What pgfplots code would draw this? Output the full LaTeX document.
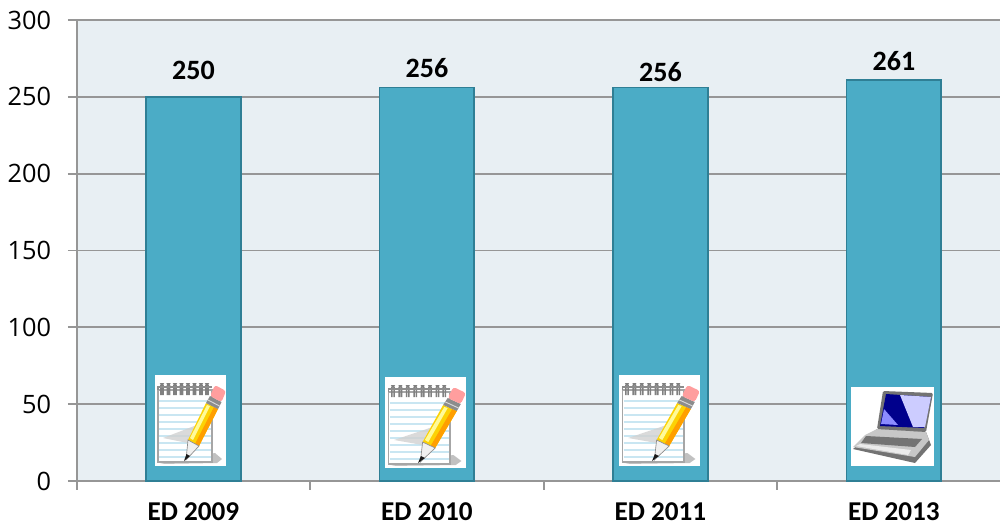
\documentclass[border=0pt]{standalone}
\usepackage{pgfplots}
\usepackage{fontspec}
\pgfplotsset{compat=1.18}
\setmainfont{Carlito}
\newfontfamily\tickfont{Open Sans}
\definecolor{bgc}{HTML}{E8EFF3}
\definecolor{barc}{HTML}{4BACC6}
\definecolor{barl}{HTML}{2F7F95}
\definecolor{gridc}{HTML}{969696}
\definecolor{linec}{HTML}{C9E6F2}
\newcommand{\notepad}[3]{%
\begin{scope}[shift={(#1,#2)},xscale=#3]
\fill[white] (0,0) rectangle (71,91);
\fill[black!30,opacity=.8] (48,80) -- (60,78) -- (67,84) -- (62,88) -- (5,89) -- cycle;
\fill[white,draw=black!35,line width=.9pt] (3,15) rectangle (57,87);
\foreach \y in {26,33,40,47,54,61,68,75,82}{\draw[linec,line width=.8pt] (4,\y) -- (56,\y);}
\fill[black!18,opacity=.8] (8,63) -- (47,48) -- (47,66) -- (33,68) -- cycle;
\foreach \x in {6,12.5,19,25.5,32,38.5,45,51}{\draw[black!50,line width=1.2pt,rounded corners=1pt] (\x,20) -- (\x,9) -- (\x+2,9) -- (\x+2,20);}
\draw[black!45,line width=.9pt] (3,15) -- (3,12) -- (57,12);
\fill[yellow!70!orange] (33,65) -- (51,28) -- (63,34) -- (44,71) -- cycle;
\fill[yellow!40!white] (35,63) -- (52,30) -- (55,31) -- (38,65) -- cycle;
\fill[orange!75!yellow] (40,69) -- (59,32) -- (63,34) -- (44,71) -- cycle;
\fill[black!6,draw=black!45,line width=.5pt] (33,65) -- (44,71) -- (31,85) -- cycle;
\fill[black!90] (31.5,79) -- (35,81) -- (29,86) -- cycle;
\fill[black!45] (51,28) -- (55,21) -- (66.5,27) -- (63,34) -- cycle;
\draw[black!15,line width=.7pt] (53,25) -- (64.5,31);
\fill[red!38!white,rounded corners=2pt] (55,21) -- (60,10) -- (71,16) -- (66.5,27) -- cycle;
\end{scope}}
\newcommand{\laptop}[2]{%
\begin{scope}[shift={(#1,#2)}]
\fill[white] (0,0) rectangle (83,79);
\fill[black!55] (2,62) -- (64,76) -- (80,58) -- (75,45) -- (26,42) -- cycle;
\fill[black!22] (2,60) -- (14,48) -- (26,42) -- (75,45) -- (78,53) -- (64,70) -- cycle;
\fill[black!55] (15,49) -- (71,52) -- (64,60) -- (10,56) -- cycle;
\fill[black!8] (5,59) -- (9,57) -- (60,63) -- (57,68) -- cycle;
\fill[black!55,rounded corners=1pt] (32,4) -- (82,6) -- (75,45) -- (26,42) -- cycle;
\fill[blue!55!black] (35,7) -- (80,10) -- (73,41) -- (29,39) -- cycle;
\fill[blue!20!white] (49,8) -- (80,10) -- (74,40) -- (62,40) -- cycle;
\fill[blue!45!white] (30,37) -- (33,22) -- (47,38) -- cycle;
\end{scope}}
\begin{document}
\begin{tikzpicture}
\useasboundingbox (0,0) rectangle (750pt,394.5pt);
\clip (0,0) rectangle (750pt,394.5pt);
\begin{axis}[
  at={(57.5pt,33.75pt)}, anchor=south west,
  scale only axis, width=700.5pt, height=345.75pt,
  xmin=-0.5, xmax=3.5, ymin=0, ymax=300,
  axis background/.style={fill=bgc},
  axis line style={gridc,line width=1.4pt},
  axis x line*=bottom, axis y line*=left,
  ymajorgrids, grid style={gridc,line width=1.3pt},
  ytick={0,50,100,150,200,250,300},
  xtick={0,1,2,3}, xticklabels={ED 2009,ED 2010,ED 2011,ED 2013},
  minor xtick={-0.5,0.5,1.5,2.5,3.5},
  major tick length=6.5pt,
  tick style={gridc,line width=1.3pt},
  x tick style={draw=none},
  minor tick length=6.5pt,
  minor x tick style={draw=gridc,line width=1.3pt},
  tick align=outside,
  /pgf/number format/assume math mode=true,
  yticklabel style={font=\tickfont\fontsize{19}{19}\selectfont,black,xshift=-10.5pt,inner sep=2pt},
  xticklabel style={font=\bfseries\fontsize{20.4}{20}\selectfont,black,yshift=-8.5pt,inner sep=1pt},
  ybar, bar width=71pt,
  nodes near coords,
  visualization depends on={\thisrow{off} \as \off},
  every node near coord/.append style={font=\bfseries\fontsize{21}{21}\selectfont,black,anchor=center,yshift=\off pt},
  axis on top=false,
]
\addplot[fill=barc,draw=barl,line width=1.2pt] table[x=x,y=y] {
x y off
0 250 20
1 256 14.6
2 256 11.6
3 261 14.1
};
\end{axis}
\begin{scope}[x=.75pt,y=-.75pt,yshift=394.5pt]
\notepad{155}{375}{1}
\notepad{385}{377}{1.14}
\notepad{619}{375}{1.14}
\laptop{851}{387}
\end{scope}
\end{tikzpicture}
\end{document}
